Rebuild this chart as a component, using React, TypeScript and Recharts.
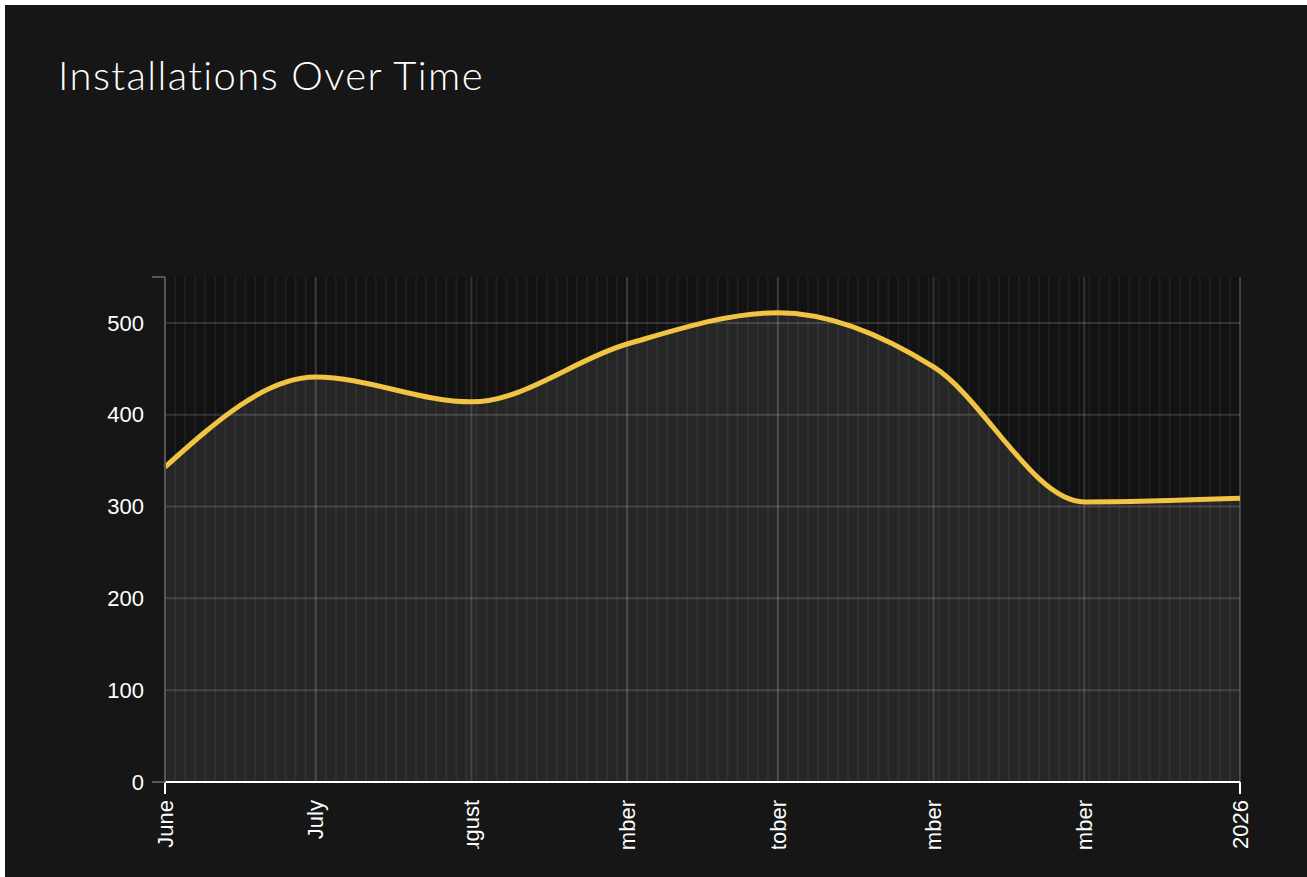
import { Area, AreaChart, CartesianGrid, XAxis, YAxis } from "recharts";

// month starts shown on the x axis (d3-style labels, year on Jan 1)
const monthStarts = [
  "2025-06-01",
  "2025-07-01",
  "2025-08-01",
  "2025-09-01",
  "2025-10-01",
  "2025-11-01",
  "2025-12-01",
  "2026-01-01",
];
const monthLabels = [
  "June",
  "July",
  "August",
  "September",
  "October",
  "November",
  "December",
  "2026",
];
// installations at each month start
const installs = [343, 441, 414, 477, 511, 452, 305, 309];

const yTicks = [0, 100, 200, 300, 400, 500];
const yMax = 550;

const DAY = 24 * 60 * 60 * 1000;
const monthTs = monthStarts.map((d) => Date.parse(d + "T00:00:00Z"));
const start = monthTs[0];
const end = monthTs[monthTs.length - 1];

const chartData = monthTs.map((t, i) => ({ t, v: installs[i] }));

// faint minor grid, one line every two days
const minorTicks: number[] = [];
for (let t = start; t <= end; t += 2 * DAY) minorTicks.push(t);

const TICK_FONT = "'Liberation Sans', Arial, Helvetica, sans-serif";

function XTick(props: any) {
  const { x, y, payload, index } = props;
  const i = monthTs.indexOf(payload.value);
  const outer = index === 0 || i === monthTs.length - 1;
  return (
    <g>
      {outer && (
        <line x1={x} x2={x} y1={y} y2={y + 12} stroke="#fff" strokeWidth={2} />
      )}
      <text
        x={x}
        y={y + 18}
        transform={`rotate(-90, ${x}, ${y + 18})`}
        textAnchor="end"
        dy="0.35em"
        fill="#fff"
        fontSize={22}
        fontFamily={TICK_FONT}
      >
        {monthLabels[i]}
      </text>
    </g>
  );
}

function YTick(props: any) {
  const { x, y, payload } = props;
  const v = payload.value;
  const outer = v === 0 || v === yMax;
  return (
    <g>
      {outer && (
        <line x1={x - 13} x2={x} y1={y} y2={y} stroke="#555" strokeWidth={2} />
      )}
      {v !== yMax && (
        <text
          x={x - 21}
          y={y}
          dy="0.35em"
          textAnchor="end"
          fill="#fff"
          fontSize={22}
          fontFamily={TICK_FONT}
        >
          {v}
        </text>
      )}
    </g>
  );
}

export default function App() {
  return (
    <div
      style={{
        position: "absolute",
        left: 5,
        top: 5,
        width: 1302,
        height: 872,
        background: "#161616",
        overflow: "hidden",
      }}
    >
      <div
        style={{
          position: "absolute",
          left: 53,
          top: 50,
          color: "#fff",
          fontFamily: "Lato, 'Open Sans', sans-serif",
          fontWeight: 300,
          fontSize: 40,
          lineHeight: "40px",
          letterSpacing: 1.4,
          whiteSpace: "nowrap",
        }}
      >
        Installations Over Time
      </div>
      <div
        style={{
          position: "absolute",
          left: 0,
          top: 250,
          width: 1302,
          height: 594,
          overflow: "hidden",
        }}
      >
        <AreaChart
          width={1302}
          height={594}
          data={chartData}
          margin={{ top: 22, right: 67, left: 0, bottom: 0 }}
        >
          <CartesianGrid
            fill="#121212"
            horizontal={false}
            verticalValues={minorTicks}
            stroke="rgba(255,255,255,0.05)"
            strokeWidth={2}
          />
          <CartesianGrid
            horizontalValues={yTicks}
            verticalValues={monthTs}
            stroke="rgba(255,255,255,0.14)"
            strokeWidth={2}
          />
          <XAxis
            dataKey="t"
            type="number"
            domain={[start, end]}
            ticks={monthTs}
            interval={0}
            height={67}
            tickSize={0}
            tickMargin={0}
            tickLine={false}
            axisLine={{ stroke: "#fff", strokeWidth: 2 }}
            tick={<XTick />}
          />
          <YAxis
            type="number"
            domain={[0, yMax]}
            ticks={[...yTicks, yMax]}
            interval={0}
            width={160}
            tickSize={0}
            tickMargin={0}
            tickLine={false}
            axisLine={{ stroke: "#555", strokeWidth: 2 }}
            tick={<YTick />}
          />
          <Area
            type="monotone"
            dataKey="v"
            stroke="#f2c443"
            strokeWidth={5}
            fill="#ffffff"
            fillOpacity={0.085}
            dot={false}
            activeDot={false}
            isAnimationActive={false}
          />
        </AreaChart>
      </div>
    </div>
  );
}
